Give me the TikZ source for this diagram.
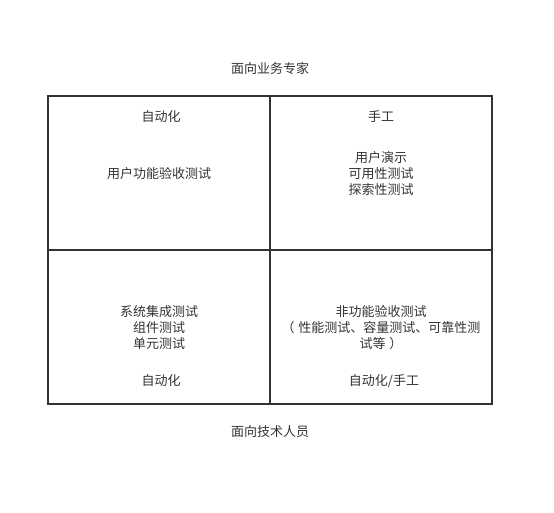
\documentclass[tikz,border=0pt]{standalone}
\usepackage{fontspec}
\setmainfont{Noto Sans CJK SC}
\definecolor{ink}{HTML}{333333}
\begin{document}
\begin{tikzpicture}[x=1pt,y=-1pt,
  lbl/.style={text=ink,font=\fontsize{13}{16}\selectfont,align=center,inner sep=0pt},
  cell/.style={draw=ink,line width=1.6pt}]
\useasboundingbox (0,0) rectangle (554,513);
\coordinate (tl) at (48,96);
\coordinate (br) at (492,404);
\draw[cell] (tl) rectangle (br);
\coordinate (mt) at (270,96);
\coordinate (mb) at (270,404);
\coordinate (ml) at (48,250);
\coordinate (mr) at (492,250);
\draw[cell] (mt) -- (mb);
\draw[cell] (ml) -- (mr);
\node[lbl] (top) at (270,69) {面向业务专家};
\node[lbl] (bottom) at (270,432) {面向技术人员};
\node[lbl] (q1a) at (161,117) {自动化};
\node[lbl] (q1b) at (159,174) {用户功能验收测试};
\node[lbl] (q2a) at (381,117) {手工};
\node[lbl] (q2b) at (381,174) {用户演示\\可用性测试\\探索性测试};
\node[lbl] (q3b) at (159,328) {系统集成测试\\组件测试\\单元测试};
\node[lbl] (q3a) at (161,381) {自动化};
\node[lbl] (q4b) at (381,328) {非功能验收测试\\（\hspace{4pt}性能测试、容量测试、可靠性测\\试等\hspace{4pt}）};
\node[lbl] (q4a) at (384,381) {自动化/手工};
\end{tikzpicture}
\end{document}
